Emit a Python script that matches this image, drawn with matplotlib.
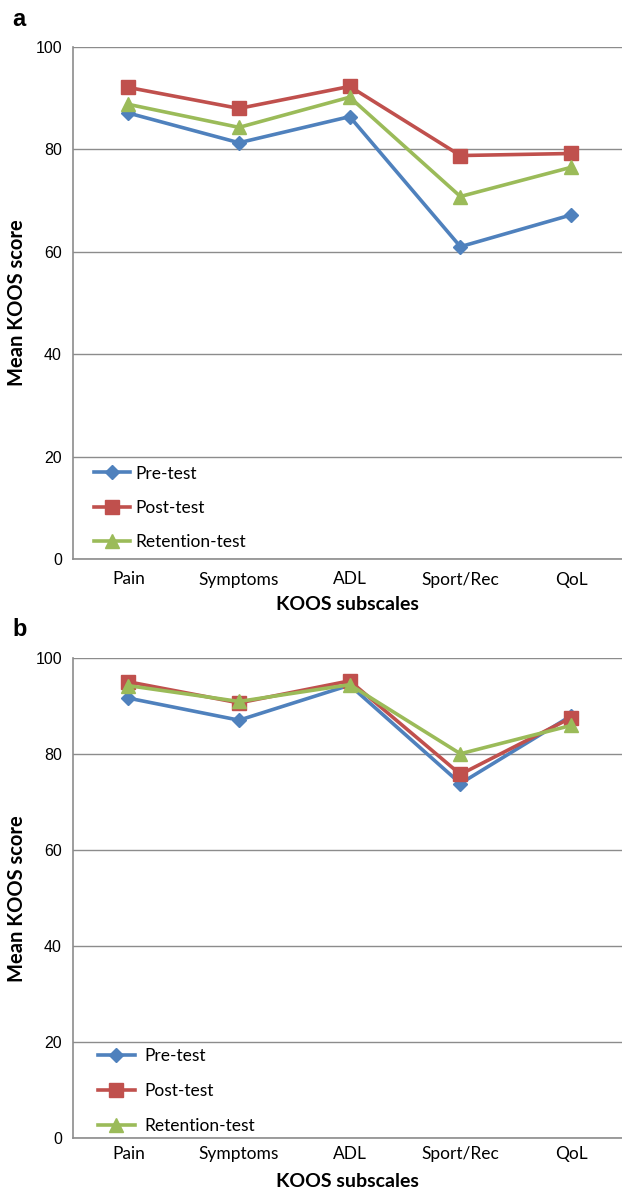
import matplotlib
matplotlib.use("Agg")
import matplotlib.pyplot as plt

categories = ["Pain", "Symptoms", "ADL", "Sport/Rec", "QoL"]
series_names = ["Pre-test", "Post-test", "Retention-test"]

a_pre = [87.1, 81.3, 86.4, 61.0, 67.2]
a_post = [92.1, 88.0, 92.3, 78.8, 79.2]
a_ret = [88.8, 84.3, 90.2, 70.8, 76.5]

b_pre = [91.7, 87.1, 94.4, 73.9, 88.0]
b_post = [95.1, 90.7, 95.3, 75.8, 87.6]
b_ret = [94.3, 91.0, 94.5, 80.1, 86.0]

yticks = [0, 20, 40, 60, 80, 100]

colors = ["#4F81BD", "#C0504D", "#9BBB59"]
markers = ["D", "s", "^"]
msizes = [7.5, 9.5, 10]

W, H = 622, 1190
fig = plt.figure(figsize=(W / 100, H / 100), dpi=100)

calibri = ["Lato", "DejaVu Sans"]
arial = ["Liberation Sans", "DejaVu Sans"]


def panel(rect, data, label, legend_anchor, tick_pad, xlab_pad, lspacing,
          hlen, htpad):
    ax = fig.add_axes(rect)
    x = list(range(len(categories)))
    for vals, name, c, m, ms in zip(data, series_names, colors, markers, msizes):
        ax.plot(x, vals, color=c, marker=m, markersize=ms, linewidth=2.6,
                label=name, markeredgecolor=c, clip_on=False, zorder=3)
    ax.set_ylim(0, 100)
    ax.set_xlim(-0.5, 4.46)
    ax.set_yticks(yticks)
    ax.set_yticklabels([str(t) for t in yticks], fontfamily=arial, fontsize=11.5)
    ax.set_xticks(x)
    ax.set_xticklabels(categories, fontfamily=calibri, fontsize=12.5)
    ax.tick_params(length=0)
    ax.tick_params(axis="x", pad=tick_pad)
    ax.tick_params(axis="y", pad=8)
    ax.grid(axis="y", color="#8c8c8c", linewidth=1.0)
    ax.set_axisbelow(True)
    for s in ["top", "right"]:
        ax.spines[s].set_visible(False)
    for s in ["left", "bottom"]:
        ax.spines[s].set_color("#8c8c8c")
        ax.spines[s].set_linewidth(1.2)
    ax.set_ylabel("Mean KOOS score", fontfamily=calibri, fontweight="bold",
                  fontsize=14.5)
    ax.yaxis.set_label_coords(-(73 - 27) / (rect[2] * W), 0.5)
    ax.set_xlabel("KOOS subscales", fontfamily=calibri, fontweight="bold",
                  fontsize=14, labelpad=xlab_pad)
    ax.legend(loc="lower left", bbox_to_anchor=legend_anchor, frameon=False,
              prop={"family": calibri, "size": 12.5}, handlelength=hlen,
              handletextpad=htpad, labelspacing=lspacing, borderaxespad=0)
    fig.text(12 / W, label[1], label[0], fontfamily=arial, fontweight="bold",
             fontsize=17, va="center", ha="left")
    return ax


ax_a = panel([73 / W, 1 - 559 / H, (W - 73) / W, 512 / H],
             [a_pre, a_post, a_ret], ("a", 1 - 20 / H), (0.025, 0.004),
             9, 6, 1.05, 2.1, 0.3)
ax_b = panel([73 / W, 1 - 1138 / H, (W - 73) / W, 479.7 / H],
             [b_pre, b_post, b_ret], ("b", 1 - 630 / H), (0.033, -0.006),
             6, 8, 1.1, 2.1, 0.55)

fig.savefig("out.png", dpi=100)
